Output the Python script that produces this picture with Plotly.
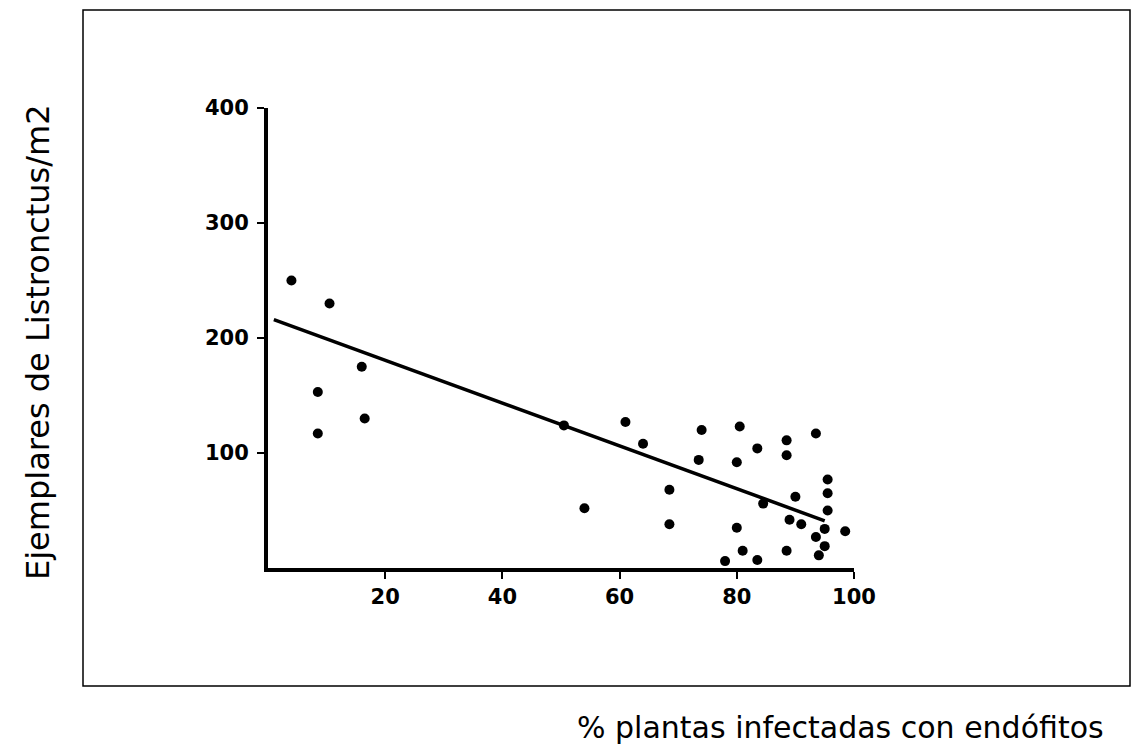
import plotly.graph_objects as go

# Data
x_pts = [4, 10.5, 16, 8.5, 16.5, 8.5, 50.5, 61, 64, 54, 74, 80.5, 73.5, 80, 83.5,
         88.5, 88.5, 93.5, 68.5, 68.5, 80, 84.5, 90, 95.5, 95.5, 95.5, 89, 91,
         98.5, 88.5, 81, 83.5, 78, 95, 93.5, 95, 94]
y_pts = [250, 230, 175, 153, 130, 117, 124, 127, 108, 52, 120, 123, 94, 92, 104,
         111, 98, 117, 68, 38, 35, 56, 62, 77, 65, 50, 42, 38,
         32, 15, 15, 7, 6, 34, 27, 19, 11]

trend_x = [1, 95]
trend_y = [216, 41]

x_ticks = [20, 40, 60, 80, 100]
y_ticks = [100, 200, 300, 400]

x_title = "% plantas infectadas con endófitos"
y_title = "Ejemplares de Listronctus/m2"

W, H = 1140, 753
OFF = 8  # page body margin
L, T = 268 - OFF, 108 - OFF
pw, ph = 586, 460
R = W - L - pw
B = H - T - ph


def px2paper(px, py):
    px -= OFF
    py -= OFF
    return (px - L) / pw, (T + ph - py) / ph


fig = go.Figure()
fig.add_trace(go.Scatter(x=trend_x, y=trend_y, mode="lines",
                         line=dict(color="black", width=3.5),
                         hoverinfo="skip", showlegend=False))
fig.add_trace(go.Scatter(x=x_pts, y=y_pts, mode="markers",
                         marker=dict(color="black", size=10),
                         showlegend=False))

fx0, fy0 = px2paper(83, 686)
fx1, fy1 = px2paper(1130, 10)
fig.add_shape(type="rect", xref="paper", yref="paper",
              x0=fx0, y0=fy0, x1=fx1, y1=fy1,
              line=dict(color="black", width=1.5))

ax, ay = px2paper(38, 342)
fig.add_annotation(text=y_title, xref="paper", yref="paper", x=ax, y=ay,
                   textangle=-90, showarrow=False, xanchor="center", yanchor="middle",
                   font=dict(family="DejaVu Sans", size=32, color="black"))
bx, by = px2paper(1106, 727)
fig.add_annotation(text=x_title, xref="paper", yref="paper", x=bx, y=by,
                   showarrow=False, xanchor="right", yanchor="middle",
                   font=dict(family="DejaVu Sans", size=30, color="black"))

tickfont = dict(family="DejaVu Sans", size=21, color="black", weight="bold")
fig.update_xaxes(range=[0, 100], tickvals=x_ticks, showgrid=False, zeroline=False,
                 showline=True, linecolor="black", linewidth=4,
                 ticks="outside", ticklen=7, tickwidth=2, tickcolor="black",
                 tickfont=tickfont, ticklabelstandoff=0)
fig.update_yaxes(range=[0, 400], tickvals=y_ticks, showgrid=False, zeroline=False,
                 showline=True, linecolor="black", linewidth=4,
                 ticks="outside", ticklen=7, tickwidth=2, tickcolor="black",
                 tickfont=tickfont, ticklabelstandoff=4)

fig.update_layout(width=W, height=H, margin=dict(l=L, r=R, t=T, b=B),
                  plot_bgcolor="white", paper_bgcolor="white")

fig.write_html("out.html")
